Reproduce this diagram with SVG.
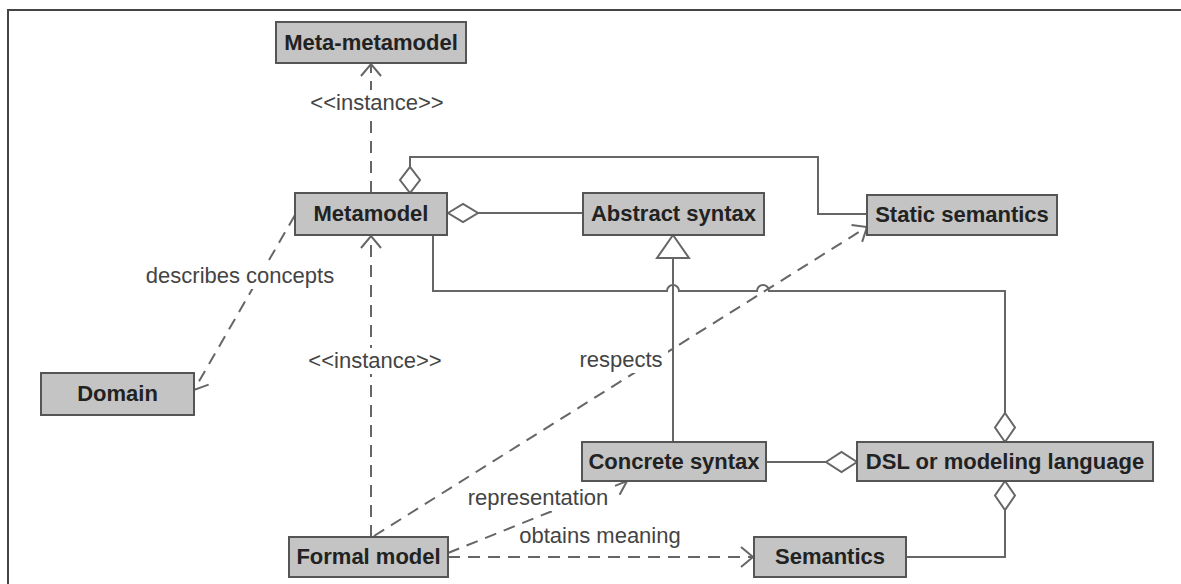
<svg xmlns="http://www.w3.org/2000/svg" width="1181" height="584" viewBox="0 0 1181 584">
<style>
.box{fill:#c4c4c4;stroke:#555;stroke-width:2}
.bt{font-family:"Liberation Sans",Arial,sans-serif;font-weight:bold;font-size:22px;fill:#222;text-anchor:middle}
.lt{font-family:"Liberation Sans",Arial,sans-serif;font-size:22px;fill:#444;text-anchor:middle}
.ln{fill:none;stroke:#666;stroke-width:2}
.dl{fill:none;stroke:#666;stroke-width:2;stroke-dasharray:12 8}
.dia{fill:#fff;stroke:#666;stroke-width:2}
.bg{fill:#fff}
</style>
<defs>
<marker id="open" viewBox="-1 -1 15 22" refX="12" refY="10" markerWidth="15" markerHeight="22" markerUnits="userSpaceOnUse" orient="auto">
<path d="M0,0 L12,10 L0,20" fill="none" stroke="#666" stroke-width="2" stroke-dasharray="none"/>
</marker>
</defs>
<rect width="1181" height="584" fill="#fff"/>
<path d="M8,584 V10 H1181" fill="none" stroke="#444" stroke-width="2"/>
<g id="connectors">
<line class="dl" x1="371" y1="193" x2="371" y2="64" marker-end="url(#open)"/>
<line class="dl" x1="371" y1="537" x2="371" y2="236" marker-end="url(#open)"/>
<line class="dl" x1="295" y1="215" x2="194" y2="390" marker-end="url(#open)"/>
<line class="dl" x1="374" y1="536" x2="867" y2="227" marker-end="url(#open)"/>
<line class="dl" x1="448" y1="553" x2="627" y2="481" marker-end="url(#open)"/>
<line class="dl" x1="448" y1="557" x2="753" y2="557" marker-end="url(#open)"/>
<path class="ln" d="M410,167 V157 H818 V214 H867"/>
<polygon class="dia" points="410,193 400,180 410,167 420,180"/>
<path class="ln" d="M478,213 H583"/>
<polygon class="dia" points="448,213 463,204 478,213 463,222"/>
<path class="ln" d="M673,258 V442"/>
<polygon class="dia" points="673,235 657,258 689,258"/>
<path class="ln" d="M433,235 V291 H667 A6,6 0 0 1 679,291 H757 A6,6 0 0 1 769,291 H1005 V413"/>
<polygon class="dia" points="1005,442 995,427.5 1005,413 1015,427.5"/>
<path class="ln" d="M766,462 H826"/>
<polygon class="dia" points="826,462 841.5,452 857,462 841.5,472"/>
<path class="ln" d="M1005,510 V557 H906"/>
<polygon class="dia" points="1005,481 995,495.5 1005,510 1015,495.5"/>
<rect class="bg" x="306" y="90" width="140" height="26"/>
<text class="lt" x="377" y="110">&lt;&lt;instance&gt;&gt;</text>
<rect class="bg" x="304" y="348" width="142" height="26"/>
<text class="lt" x="375" y="368">&lt;&lt;instance&gt;&gt;</text>
<rect class="bg" x="142" y="263" width="196" height="26"/>
<text class="lt" x="240" y="283">describes concepts</text>
<rect class="bg" x="577" y="348" width="91" height="25"/>
<text class="lt" x="621" y="367">respects</text>
<rect class="bg" x="465" y="487" width="146" height="24"/>
<text class="lt" x="538" y="505">representation</text>
<text class="lt" x="600" y="543">obtains meaning</text>
</g>
<g id="meta-metamodel"><rect class="box" x="276" y="22" width="190" height="41"/><text class="bt" x="371" y="50">Meta-metamodel</text></g>
<g id="metamodel"><rect class="box" x="295" y="193" width="152" height="42"/><text class="bt" x="371" y="221">Metamodel</text></g>
<g id="abstract-syntax"><rect class="box" x="583" y="193" width="181" height="42"/><text class="bt" x="673.5" y="221">Abstract syntax</text></g>
<g id="static-semantics"><rect class="box" x="867" y="195" width="190" height="40"/><text class="bt" x="962" y="222">Static semantics</text></g>
<g id="domain"><rect class="box" x="41" y="373" width="153" height="42"/><text class="bt" x="117.5" y="401">Domain</text></g>
<g id="concrete-syntax"><rect class="box" x="582" y="442" width="184" height="39"/><text class="bt" x="674" y="469">Concrete syntax</text></g>
<g id="dsl"><rect class="box" x="857" y="442" width="296" height="39"/><text class="bt" x="1005" y="469">DSL or modeling language</text></g>
<g id="formal-model"><rect class="box" x="289" y="537" width="159" height="40"/><text class="bt" x="368.5" y="564">Formal model</text></g>
<g id="semantics"><rect class="box" x="754" y="537" width="152" height="40"/><text class="bt" x="830" y="564">Semantics</text></g>
</svg>
